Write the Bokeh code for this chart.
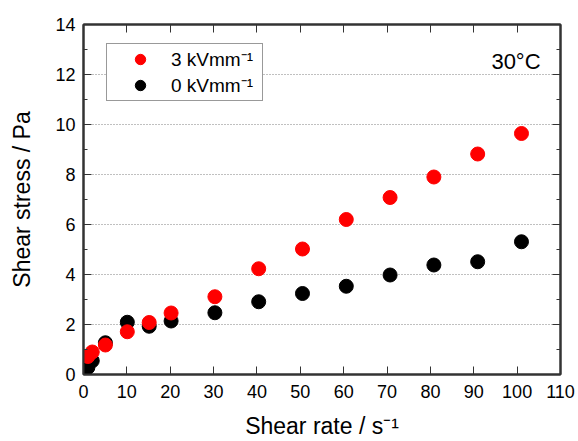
from bokeh.plotting import figure
from bokeh.models import (FixedTicker, LinearAxis, Legend, LegendItem, Label,
                          Range1d, CustomJSTickFormatter)
from bokeh.embed import file_html
from bokeh.resources import INLINE

# ---- data ----
shear_rate = [1.01, 2.02, 5.05, 10.1, 15.15, 20.2, 30.3, 40.4, 50.5, 60.6, 70.7, 80.8, 90.9, 101.0]
stress_3kV = [0.72, 0.90, 1.18, 1.71, 2.08, 2.46, 3.11, 4.23, 5.02, 6.20, 7.08, 7.90, 8.82, 9.64]
stress_0kV = [0.28, 0.55, 1.27, 2.09, 1.93, 2.14, 2.47, 2.91, 3.24, 3.53, 3.98, 4.38, 4.51, 5.31]
x_ticks = [0, 10, 20, 30, 40, 50, 60, 70, 80, 90, 100, 110]
y_ticks = [0, 2, 4, 6, 8, 10, 12, 14]
y_minor = [1, 3, 5, 7, 9, 11, 13]
grid_ticks = [2, 4, 6, 8, 10, 12]
legend_labels = ["3 kVmm\u207b\u00b9", "0 kVmm\u207b\u00b9"]
x_title = "Shear rate / s\u207b\u00b9"
y_title = "Shear stress / Pa"
temp_text = "30\u00b0C"

FONT = "Liberation Sans"
AX = "#333333"

p = figure(width=578, height=441, x_range=Range1d(0, 110), y_range=Range1d(0, 14),
           output_backend="svg", toolbar_location=None,
           min_border_left=83, min_border_right=18, min_border_top=24, min_border_bottom=66)
p.background_fill_color = "white"
p.border_fill_color = "white"
p.outline_line_color = AX
p.outline_line_width = 2

xt = FixedTicker(ticks=x_ticks, minor_ticks=[])
yt = FixedTicker(ticks=y_ticks, minor_ticks=y_minor)

def style(ax, ticker, show_labels=True):
    ax.ticker = ticker
    ax.axis_line_color = AX
    ax.axis_line_width = 2
    ax.major_tick_in = 8
    ax.major_tick_out = 0
    ax.minor_tick_in = 4
    ax.minor_tick_out = 0
    ax.major_tick_line_color = AX
    ax.minor_tick_line_color = AX
    ax.major_tick_line_width = 1
    ax.minor_tick_line_width = 1
    ax.major_label_text_font = FONT
    ax.major_label_text_font_size = "18px"
    ax.major_label_text_color = "black"
    ax.axis_label_text_font = FONT
    ax.axis_label_text_font_size = "23px"
    ax.axis_label_text_font_style = "normal"
    ax.axis_label_text_color = "black"
    if not show_labels:
        ax.formatter = CustomJSTickFormatter(code="return ''")
        ax.major_label_standoff = 0

style(p.xaxis[0], xt)
style(p.yaxis[0], yt)
p.xaxis[0].axis_label = x_title
p.yaxis[0].axis_label = y_title
p.xaxis[0].major_label_standoff = 10
p.xaxis[0].axis_label_standoff = 12
p.yaxis[0].major_label_standoff = 8
p.yaxis[0].axis_label_standoff = 17

top_ax = LinearAxis()
style(top_ax, xt, show_labels=False)
p.add_layout(top_ax, "above")
right_ax = LinearAxis()
style(right_ax, yt, show_labels=False)
p.add_layout(right_ax, "right")

p.xgrid.visible = False
p.ygrid.ticker = FixedTicker(ticks=grid_ticks)
p.ygrid.grid_line_color = "#808080"
p.ygrid.grid_line_dash = "1 2"
p.ygrid.grid_line_width = 1

r0 = p.scatter(shear_rate, stress_0kV, size=14, fill_color="black", line_color="black")
r3 = p.scatter(shear_rate, stress_3kV, size=14, fill_color="red", line_color="red")

legend = Legend(items=[LegendItem(label=legend_labels[0], renderers=[r3]),
                       LegendItem(label=legend_labels[1], renderers=[r0])],
                location=(23, 273))
legend.padding = 2
legend.margin = 0
legend.spacing = 0
legend.glyph_height = 26
legend.glyph_width = 62
legend.label_height = 26
legend.label_width = 89
legend.label_standoff = 0
legend.label_text_font = FONT
legend.label_text_font_size = "19px"
legend.label_text_color = "black"
legend.border_line_color = AX
legend.border_line_width = 1
legend.background_fill_color = "white"
legend.background_fill_alpha = 1
p.add_layout(legend)

p.add_layout(Label(x=105.4, y=12.53, text=temp_text, text_align="right",
                   text_baseline="alphabetic", text_font=FONT, text_font_size="22px",
                   text_color="black"))

open("out.html", "w").write(file_html(p, INLINE))
